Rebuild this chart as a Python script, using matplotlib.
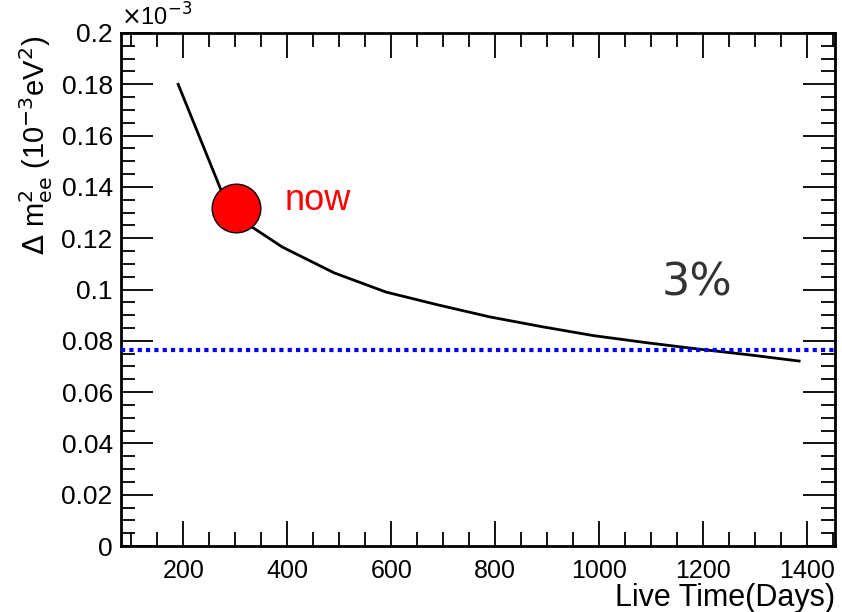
import matplotlib
matplotlib.use("Agg")
import matplotlib.pyplot as plt
from matplotlib.ticker import MultipleLocator, FormatStrFormatter

plt.rcParams['font.family'] = ['Liberation Sans', 'DejaVu Sans']

# sensitivity vs live time (units of 1e-3 eV^2)
days = [190, 290, 390, 490, 590, 690, 790, 890, 990, 1090, 1190, 1290, 1385]
dm2 = [0.180, 0.130, 0.1166, 0.1065, 0.0990, 0.0940, 0.0893, 0.0855, 0.0820, 0.0793, 0.0768, 0.0745, 0.0721]

now_day = 302
now_dm2 = 0.1318
goal_dm2 = 0.0764

fig = plt.figure(figsize=(8.42, 6.12), dpi=100)
ax = fig.add_axes([121/842, 66/612, 714/842, 513/612])

ax.plot(days, dm2, color='black', lw=2, zorder=2)
ax.axhline(goal_dm2, color='blue', lw=3, ls=(0, (1, 1)), zorder=3)
ax.plot([now_day], [now_dm2], 'o', ms=35, mfc='red', mec='black', mew=1, zorder=4)

ax.text(395, now_dm2 + 0.0028, 'now', color='red', fontsize=26, va='center', ha='left')
ax.text(1121, 0.1025, '3%', color='#333333', fontsize=32, va='center', ha='left',
        family=['DejaVu Sans'])

ax.set_xlim(80, 1454)
ax.set_ylim(0, 0.2)

ax.xaxis.set_major_locator(MultipleLocator(200))
ax.xaxis.set_minor_locator(MultipleLocator(50))
ax.yaxis.set_major_locator(MultipleLocator(0.02))
ax.yaxis.set_minor_locator(MultipleLocator(0.005))
ax.yaxis.set_major_formatter(FormatStrFormatter('%g'))

ax.tick_params(which='both', direction='in', top=True, right=True, width=1.3)
ax.tick_params(which='major', length=18)
ax.tick_params(axis='y', which='major', length=23, pad=6, labelsize=19)
ax.tick_params(which='minor', length=10)
ax.tick_params(axis='x', labelsize=18, pad=9)
for s in ax.spines.values():
    s.set_linewidth(2)

ax.set_xlabel('Live Time(Days)', fontsize=22, loc='right')
ax.xaxis.set_label_coords(1.0, -0.073)
ax.set_ylabel(r'$\Delta$ m$^{2}_{\mathrm{ee}}$ (10$^{-3}$eV$^{2}$)', fontsize=21, loc='top')
ax.yaxis.set_label_coords(-0.092, 0.995)

ax.text(0.0, 1.005, r'$\times$10$^{-3}$', transform=ax.transAxes, fontsize=17,
        ha='left', va='bottom')

fig.savefig('out.png', dpi=100)
